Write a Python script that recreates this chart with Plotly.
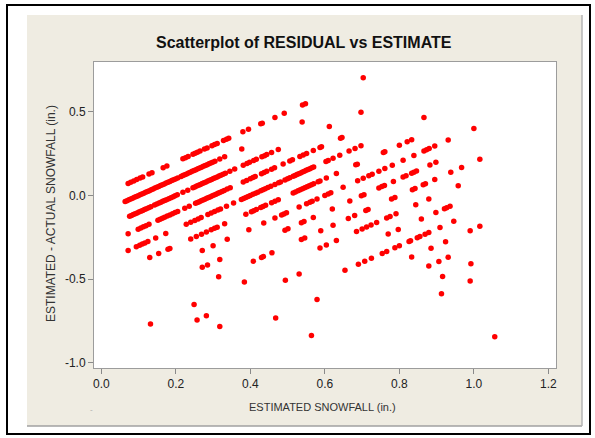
import plotly.graph_objects as go

# ---- data: estimated snowfall (x) and residual (y) ----
# cluster of estimates 0.06-0.21
est_c1 = [0.072,0.079,0.087,0.095,0.104,0.111,0.128,0.136,0.166,0.176,
          0.064,0.069,0.074,0.079,0.084,0.089,0.094,0.099,0.104,0.109,0.114,0.119,0.124,0.129,0.134,0.139,0.144,0.149,0.154,0.159,0.164,0.169,0.174,0.179,0.184,0.189,0.194,0.199,0.205,
          0.076,0.081,0.086,0.091,0.096,0.101,0.106,0.111,0.116,0.121,0.127,0.133,0.143,0.149,0.155,0.160,0.165,0.170,0.175,0.181,0.187,0.193,0.198,0.204,
          0.072,0.099,0.106,0.113,0.120,0.128,0.152,0.158,0.164,0.170,0.177,0.184,0.191,0.198,0.205,
          0.072,0.094,0.103,0.110,0.117,0.125,0.146,0.173,
          0.130,0.154,0.179,0.184,
          0.132]
res_c1 = [0.072,0.079,0.087,0.095,0.104,0.111,0.128,0.136,0.166,0.176,
          -0.036,-0.031,-0.026,-0.021,-0.016,-0.011,-0.006,-0.001,0.004,0.009,0.014,0.019,0.024,0.029,0.034,0.039,0.044,0.049,0.054,0.059,0.064,0.069,0.074,0.079,0.084,0.089,0.094,0.099,0.105,
          -0.124,-0.119,-0.114,-0.109,-0.104,-0.099,-0.094,-0.089,-0.084,-0.079,-0.073,-0.067,-0.057,-0.051,-0.045,-0.040,-0.035,-0.030,-0.025,-0.019,-0.013,-0.007,-0.002,0.004,
          -0.228,-0.201,-0.194,-0.187,-0.180,-0.172,-0.148,-0.142,-0.136,-0.130,-0.123,-0.116,-0.109,-0.102,-0.095,
          -0.328,-0.306,-0.297,-0.290,-0.283,-0.275,-0.254,-0.227,
          -0.370,-0.346,-0.321,-0.316,
          -0.768]

# cluster of estimates 0.21-0.36
est_c2 = [0.219,0.226,0.233,0.246,0.252,0.258,0.265,0.277,0.284,0.297,0.304,0.311,0.328,0.336,0.342,
          0.214,0.219,0.224,0.229,0.234,0.239,0.244,0.249,0.254,0.259,0.264,0.269,0.274,0.279,0.284,0.289,0.294,0.299,0.305,0.318,0.331,
          0.219,0.232,0.246,0.251,0.256,0.261,0.266,0.271,0.276,0.281,0.286,0.291,0.296,0.301,0.306,0.311,0.316,0.321,0.327,0.333,0.345,0.358,
          0.224,0.236,0.253,0.258,0.263,0.268,0.273,0.278,0.283,0.288,0.293,0.298,0.303,0.308,0.313,0.318,0.324,0.330,0.338,0.346,
          0.228,0.240,0.251,0.260,0.268,0.286,0.295,0.304,0.313,0.320,0.336,0.355,
          0.240,0.255,0.269,0.282,0.295,0.304,0.311,0.331,
          0.271,0.300,0.338,
          0.271,0.285,0.318,
          0.315,0.249,0.257,0.282,0.318]
res_c2 = [0.219,0.226,0.233,0.246,0.252,0.258,0.265,0.277,0.284,0.297,0.304,0.311,0.328,0.336,0.342,
          0.114,0.119,0.124,0.129,0.134,0.139,0.144,0.149,0.154,0.159,0.164,0.169,0.174,0.179,0.184,0.189,0.194,0.199,0.205,0.218,0.231,
          0.019,0.032,0.046,0.051,0.056,0.061,0.066,0.071,0.076,0.081,0.086,0.091,0.096,0.101,0.106,0.111,0.116,0.121,0.127,0.133,0.145,0.158,
          -0.076,-0.064,-0.047,-0.042,-0.037,-0.032,-0.027,-0.022,-0.017,-0.012,-0.007,-0.002,0.003,0.008,0.013,0.018,0.024,0.030,0.038,0.046,
          -0.172,-0.160,-0.149,-0.140,-0.132,-0.114,-0.105,-0.096,-0.087,-0.080,-0.064,-0.045,
          -0.260,-0.245,-0.231,-0.218,-0.205,-0.196,-0.189,-0.169,
          -0.329,-0.300,-0.262,
          -0.429,-0.415,-0.382,
          -0.485,-0.651,-0.743,-0.718,-0.782]

# cluster of estimates 0.37-0.51
est_c3 = [0.380,0.395,0.428,0.432,0.466,0.491,
          0.377,
          0.381,0.391,0.398,0.409,0.416,0.431,0.438,0.444,0.457,0.475,
          0.381,0.390,0.400,0.407,0.413,0.430,0.437,0.444,0.457,0.465,0.488,0.506,0.513,
          0.376,0.382,0.388,0.394,0.400,0.407,0.414,0.420,0.428,0.434,0.440,0.447,0.455,0.466,0.476,0.481,0.493,0.500,0.506,
          0.388,0.403,0.409,0.416,0.428,0.434,0.441,0.457,0.466,0.475,
          0.396,0.436,0.466,0.484,0.490,0.497,
          0.493,0.501,
          0.408,0.430,0.435,0.458,
          0.384,0.494,0.468]
res_c3 = [0.380,0.395,0.428,0.432,0.466,0.491,
          0.277,
          0.181,0.191,0.198,0.209,0.216,0.231,0.238,0.244,0.257,0.275,
          0.081,0.090,0.100,0.107,0.113,0.130,0.137,0.144,0.157,0.165,0.188,0.206,0.213,
          -0.024,-0.018,-0.012,-0.006,0.000,0.007,0.014,0.020,0.028,0.034,0.040,0.047,0.055,0.066,0.076,0.081,0.093,0.100,0.106,
          -0.112,-0.097,-0.091,-0.084,-0.072,-0.066,-0.059,-0.043,-0.034,-0.025,
          -0.204,-0.164,-0.134,-0.116,-0.110,-0.103,
          -0.207,-0.199,
          -0.392,-0.370,-0.365,-0.342,
          -0.516,-0.506,-0.732]

# cluster of estimates 0.51-0.59
est_c4 = [0.540,0.548,0.539,
          0.533,0.542,0.551,0.569,0.587,0.591,
          0.515,0.520,0.525,0.530,0.535,0.540,0.545,0.550,0.555,0.560,0.565,0.570,
          0.515,0.521,0.528,0.534,0.540,0.546,0.552,0.558,0.564,0.570,0.582,0.587,
          0.531,0.551,0.560,0.566,0.579,
          0.537,0.544,0.569,
          0.537,0.546,0.589,
          0.587,0.531,0.579,0.564]
res_c4 = [0.540,0.548,0.439,
          0.233,0.242,0.251,0.269,0.287,0.291,
          0.115,0.120,0.125,0.130,0.135,0.140,0.145,0.150,0.155,0.160,0.165,0.170,
          0.015,0.021,0.028,0.034,0.040,0.046,0.052,0.058,0.064,0.070,0.082,0.087,
          -0.069,-0.049,-0.040,-0.034,-0.021,
          -0.163,-0.156,-0.131,
          -0.263,-0.254,-0.211,
          -0.313,-0.469,-0.621,-0.836]

# cluster of estimates 0.60-0.75
est_c5 = [0.703,0.612,0.697,0.642,0.646,
          0.603,0.609,0.622,0.640,0.665,0.681,0.697,
          0.604,0.631,0.683,0.687,
          0.600,0.609,0.616,0.649,0.688,0.703,0.718,0.727,0.745,
          0.620,0.667,0.698,0.705,
          0.622,0.663,0.680,0.710,0.716,
          0.604,0.631,0.685,0.700,0.712,0.724,0.739,
          0.654,0.690,0.707,0.725]
res_c5 = [0.703,0.412,0.497,0.342,0.346,
          0.203,0.209,0.222,0.240,0.265,0.281,0.297,
          0.104,0.131,0.183,0.187,
          0.000,0.009,0.016,0.049,0.088,0.103,0.118,0.127,0.145,
          -0.080,-0.033,-0.002,0.005,
          -0.178,-0.137,-0.120,-0.090,-0.084,
          -0.296,-0.269,-0.215,-0.200,-0.188,-0.176,-0.161,
          -0.446,-0.410,-0.393,-0.375]

# cluster of estimates 0.75-1.06
est_c6 = [0.866,
          0.757,0.761,0.800,0.821,0.833,
          0.761,0.781,0.810,0.839,0.866,0.873,0.880,0.895,0.931,1.000,
          0.745,0.753,0.760,0.784,0.810,0.818,0.833,0.839,0.846,0.882,0.898,
          0.779,0.788,0.835,0.842,0.864,0.870,0.895,0.938,0.967,1.016,
          0.766,0.775,0.791,0.844,0.879,0.958,
          0.770,0.797,0.859,0.898,0.921,0.927,0.936,
          0.754,0.766,0.788,0.800,0.826,0.830,0.848,0.855,0.869,0.879,0.909,0.946,
          0.833,0.885,0.924,0.990,1.016,
          0.879,0.906,0.931,
          0.916,0.992,0.913,0.990,1.056]
res_c6 = [0.466,
          0.257,0.261,0.300,0.321,0.333,
          0.161,0.181,0.210,0.239,0.266,0.273,0.280,0.295,0.331,0.400,
          0.045,0.053,0.060,0.084,0.110,0.118,0.133,0.139,0.146,0.182,0.198,
          -0.021,-0.012,0.035,0.042,0.064,0.070,0.095,0.138,0.167,0.216,
          -0.134,-0.125,-0.109,-0.056,-0.021,0.058,
          -0.230,-0.203,-0.141,-0.102,-0.079,-0.073,-0.064,
          -0.346,-0.334,-0.312,-0.300,-0.274,-0.270,-0.252,-0.245,-0.231,-0.221,-0.191,-0.154,
          -0.367,-0.315,-0.276,-0.210,-0.184,
          -0.421,-0.394,-0.369,
          -0.484,-0.408,-0.587,-0.510,-0.844]

x_tick_vals = [0.0, 0.2, 0.4, 0.6, 0.8, 1.0, 1.2]
x_tick_text = ["0.0", "0.2", "0.4", "0.6", "0.8", "1.0", "1.2"]
y_tick_vals = [-1.0, -0.5, 0.0, 0.5]
y_tick_text = ["-1.0", "-0.5", "0.0", "0.5"]

estimate = est_c1 + est_c2 + est_c3 + est_c4 + est_c5 + est_c6
residual = res_c1 + res_c2 + res_c3 + res_c4 + res_c5 + res_c6

# ---- figure ----
W, H = 595, 438
L, R, T, B = 94, 556, 62, 368   # plot area in pixels


def px(xp):
    return (xp - L) / (R - L)


def py(yp):
    return (B - yp) / (B - T)


fig = go.Figure(go.Scatter(
    x=estimate, y=residual, mode="markers",
    marker=dict(color="#FF0000", size=5.5, line=dict(width=0)),
    hoverinfo="skip"))

font_family = "Liberation Sans, Arial, sans-serif"
axis_common = dict(showgrid=False, zeroline=False, showline=True, mirror=True,
                   linecolor="#9C9C9C", linewidth=1, ticks="outside", ticklen=5,
                   tickcolor="#8A8A8A", tickwidth=1,
                   tickfont=dict(family=font_family, size=12, color="#222222"))

fig.update_layout(
    width=W, height=H,
    margin=dict(l=L, r=W - R, t=T, b=H - B, pad=0),
    paper_bgcolor="white", plot_bgcolor="white",
    showlegend=False,
    xaxis=dict(range=[-0.0196, 1.2204], tickvals=x_tick_vals, ticktext=x_tick_text, **axis_common),
    yaxis=dict(range=[-1.03, 0.797], tickvals=y_tick_vals, ticktext=y_tick_text, **axis_common),
    shapes=[
        dict(type="rect", xref="paper", yref="paper", x0=px(27), x1=px(582), y0=py(426), y1=py(15),
             fillcolor="#EFECE2", line=dict(width=0), layer="below"),
        dict(type="rect", xref="paper", yref="paper", x0=0, x1=1, y0=0, y1=1,
             fillcolor="white", line=dict(width=0), layer="below"),
        dict(type="line", xref="paper", yref="paper", x0=px(27), x1=px(582), y0=py(426), y1=py(426),
             line=dict(color="#A0A0A0", width=1.5), layer="below"),
        dict(type="line", xref="paper", yref="paper", x0=px(582), x1=px(582), y0=py(426), y1=py(15),
             line=dict(color="#B4B4B4", width=1.5), layer="below"),
        dict(type="rect", xref="paper", yref="paper", x0=px(7), x1=px(590), y0=py(434), y1=py(5),
             line=dict(color="black", width=2), fillcolor="rgba(0,0,0,0)", layer="above"),
    ],
    annotations=[
        dict(text="<b>Scatterplot of RESIDUAL vs ESTIMATE</b>", xref="paper", yref="paper",
             x=px(303.5), y=py(42), xanchor="center", yanchor="middle", showarrow=False,
             font=dict(family=font_family, size=16, color="#111111")),
        dict(text="ESTIMATED SNOWFALL (in.)", xref="paper", yref="paper",
             x=px(322), y=py(407), xanchor="center", yanchor="middle", showarrow=False,
             font=dict(family=font_family, size=11, color="#333333")),
        dict(text="ESTIMATED - ACTUAL SNOWFALL (in.)", xref="paper", yref="paper",
             x=px(51), y=py(214), xanchor="center", yanchor="middle", showarrow=False,
             textangle=-90, font=dict(family=font_family, size=12, color="#333333")),
        dict(text="-", xref="paper", yref="paper",
             x=px(91), y=py(409), xanchor="center", yanchor="middle", showarrow=False,
             font=dict(family=font_family, size=8, color="#AAAAAA")),
    ],
)

fig.write_html("out.html", config={"displayModeBar": False, "staticPlot": True},
               post_script="document.body.style.margin='0';document.body.style.padding='0';")
